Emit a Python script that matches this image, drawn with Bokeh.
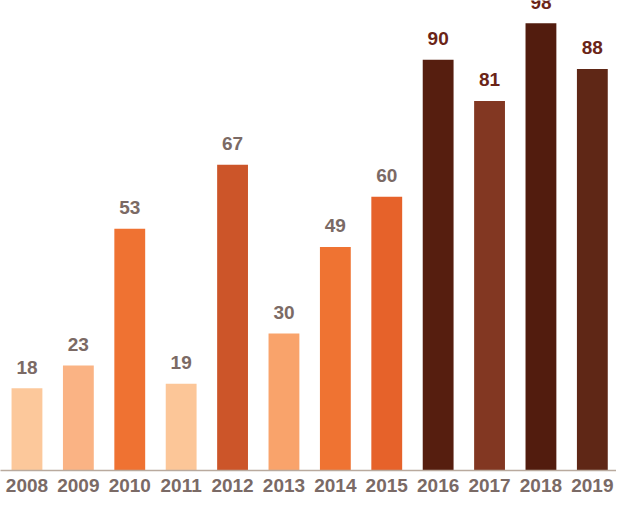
from bokeh.plotting import figure
from bokeh.models import ColumnDataSource, Range1d, FixedTicker
from bokeh.embed import file_html
from bokeh.resources import INLINE
from bokeh.core.properties import value

years = ["2008", "2009", "2010", "2011", "2012", "2013",
         "2014", "2015", "2016", "2017", "2018", "2019"]
counts = [18, 23, 53, 19, 67, 30, 49, 60, 90, 81, 98, 88]

bar_colors = ["#fcc89b", "#fab384", "#ef7232", "#fcc698", "#cc5529", "#f9a36b",
              "#ef7332", "#e6622a", "#561e0f", "#823722", "#521c0e", "#5f2716"]
label_colors = ["#7b6a65"] * 8 + ["#6a2417"] * 4

xs = list(range(len(years)))
src = ColumnDataSource(dict(x=xs, top=counts, year=years, fill=bar_colors,
                            lab=[str(c) for c in counts], lc=label_colors))

p = figure(frame_width=616, frame_height=470, output_backend="svg",
           toolbar_location=None, x_range=Range1d(-0.515, 11.47),
           y_range=Range1d(0, 103), min_border=0, y_axis_location=None)

p.vbar(x="x", top="top", width=0.6, fill_color="fill", line_color=None, source=src)
p.text(x="x", y="top", text="lab", source=src, text_align="center",
       text_baseline="alphabetic", y_offset=-21, text_color="lc",
       text_font=value("Liberation Sans"), text_font_size="19px",
       text_font_style="bold")

p.xaxis.ticker = FixedTicker(ticks=xs)
p.xaxis.major_label_overrides = {i: y for i, y in zip(xs, years)}
p.xaxis.major_label_text_font = "Liberation Sans"
p.xaxis.major_label_text_font_size = "19px"
p.xaxis.major_label_text_font_style = "bold"
p.xaxis.major_label_text_color = "#7a6a66"
p.xaxis.major_label_standoff = 2
p.xaxis.major_tick_line_color = None
p.xaxis.minor_tick_line_color = None
p.xaxis.axis_line_color = "#b9aa9e"
p.xaxis.axis_line_width = 1.5

p.xgrid.grid_line_color = None
p.ygrid.grid_line_color = None
p.outline_line_color = None
p.background_fill_color = "white"
p.border_fill_color = "white"

open("out.html", "w").write(file_html(p, INLINE))
